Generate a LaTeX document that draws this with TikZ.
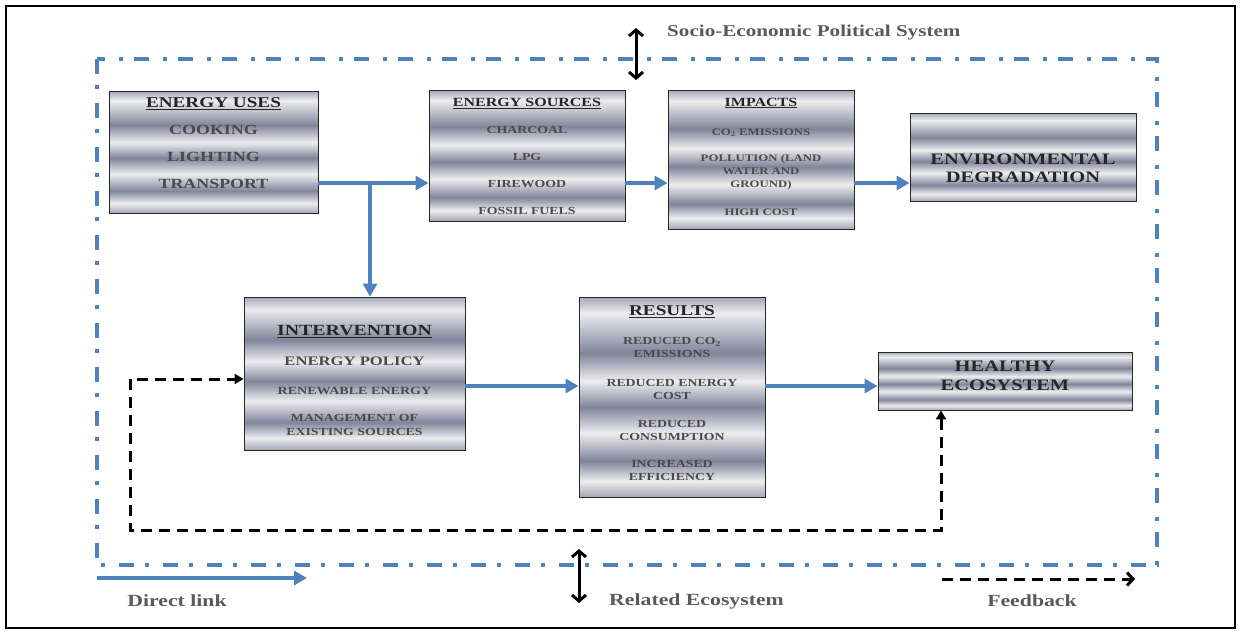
\documentclass[tikz,border=0pt]{standalone}
\usepackage{fontspec}
\setmainfont[FakeStretch=1.28]{Liberation Serif}
\usetikzlibrary{arrows.meta}
\definecolor{lblue}{HTML}{4F81BD}
\definecolor{mL}{HTML}{EDEDF0}
\definecolor{mD}{HTML}{80859A}
\definecolor{mM}{HTML}{A4A8B6}
\definecolor{ttlc}{HTML}{262626}
\definecolor{itmc}{HTML}{4A4A4A}
\definecolor{lgc}{HTML}{5A5A5A}
\pgfdeclareverticalshading{metal}{100bp}{color(0bp)=(mM); color(25bp)=(mM); color(29bp)=(mL); color(34bp)=(mD); color(41bp)=(mL); color(47.5bp)=(mD); color(54bp)=(mL); color(61bp)=(mD); color(71bp)=(mL); color(75bp)=(mM); color(100bp)=(mM)}
\newcommand\ttl[2]{{\color{ttlc}\fontsize{#1}{#1}\selectfont\underline{#2}}}
\tikzset{
  box/.style={draw=black!85, line width=0.9pt, shading=metal, inner sep=0pt},
  btext/.style={align=center, text=itmc, font=\bfseries, inner sep=0pt},
  blink/.style={draw=lblue, line width=3.2pt, -{Triangle[length=13pt,width=14pt]}},
  fdash/.style={draw=black, line width=3pt, dash pattern=on 11pt off 7pt},
  barb2/.style={draw=black, line width=3pt, {Straight Barb[length=6pt,width=14pt]}-{Straight Barb[length=6pt,width=14pt]}},
  lgtext/.style={text=lgc, font=\bfseries\fontsize{17}{17}\selectfont, inner sep=0pt},
}
\begin{document}
\begin{tikzpicture}[x=1pt,y=-1pt]
\useasboundingbox (0,0) rectangle (1241,632);
\fill[white] (0,0) rectangle (1241,632);
\draw[line width=1.4pt] (6,6) rectangle (1235,628);
% dash-dot system boundary
\draw[lblue, line width=3.6pt, dash pattern=on 15pt off 11pt on 4pt off 14pt] (97,59) rectangle (1157,565);

% boxes
\node[box, minimum width=209pt, minimum height=122pt] (uses) at (213.5,152) {};
\node[box, minimum width=196pt, minimum height=131pt] (src) at (527,155.5) {};
\node[box, minimum width=186pt, minimum height=139pt] (imp) at (761,159.5) {};
\node[box, minimum width=226pt, minimum height=88pt] (env) at (1023,157) {};
\node[box, minimum width=221pt, minimum height=153pt] (int) at (354.5,373.5) {};
\node[box, minimum width=186pt, minimum height=200pt] (res) at (672,397) {};
\node[box, minimum width=254pt, minimum height=58pt] (hea) at (1005,381) {};

% texts
\node[btext, font=\bfseries\fontsize{14}{27}\selectfont] (usesT) at (213.5,143)
  {\ttl{15}{ENERGY USES}\\ COOKING\\ LIGHTING\\ TRANSPORT};
\node[btext, font=\bfseries\fontsize{10.8}{27}\selectfont] (srcT) at (527,156.5)
  {\ttl{12.5}{ENERGY SOURCES}\\ CHARCOAL\\ LPG\\ FIREWOOD\\ FOSSIL FUELS};
\node[btext, font=\bfseries\fontsize{10}{13}\selectfont] (impT) at (761,156.5)
  {\ttl{12.5}{IMPACTS}\\[16pt] CO\textsubscript{2} EMISSIONS\\[13pt] POLLUTION (LAND\\ WATER AND\\ GROUND)\\[15pt] HIGH COST};
\node[btext, text=ttlc, font=\bfseries\fontsize{16}{18}\selectfont] (envT) at (1023,168.5)
  {ENVIRONMENTAL\\ DEGRADATION};
\node[btext, font=\bfseries\fontsize{10.8}{14}\selectfont] (intT) at (354.5,380)
  {\ttl{15.5}{INTERVENTION}\\[16pt] {\fontsize{13}{14}\selectfont ENERGY POLICY}\\[15pt] {\fontsize{11}{14}\selectfont RENEWABLE ENERGY}\\[13pt] MANAGEMENT OF\\ EXISTING SOURCES};
\node[btext, font=\bfseries\fontsize{10.8}{13}\selectfont] (resT) at (672,393)
  {\ttl{15}{RESULTS}\\[16pt] REDUCED CO\textsubscript{2}\\ EMISSIONS\\[16pt] REDUCED ENERGY\\ COST\\[15pt] REDUCED\\ CONSUMPTION\\[14pt] INCREASED\\ EFFICIENCY};
\node[btext, text=ttlc, font=\bfseries\fontsize{16}{19}\selectfont] (heaT) at (1005,375.5)
  {HEALTHY\\ ECOSYSTEM};

% direct links
\coordinate (a1) at ([yshift=-31pt]uses.east);
\coordinate (br) at (370,183);
\draw[blink] (a1) -- (a1 -| src.west);
\draw[blink] (br) -- (br |- int.north);
\draw[blink] (a1 -| src.east) -- (a1 -| imp.west);
\draw[blink] (a1 -| imp.east) -- (a1 -| env.west);
\coordinate (a2) at ([yshift=-12.5pt]int.east);
\draw[blink] (a2) -- (a2 -| res.west);
\draw[blink] (a2 -| res.east) -- (a2 -| hea.west);

% feedback loop
\coordinate (f1) at ([xshift=-64pt]hea.south);
\coordinate (fb) at (130,530);
\coordinate (fe) at ([yshift=-5.5pt]int.west);
\draw[fdash, {Triangle[length=9pt,width=10pt]}-{Triangle[length=9pt,width=10pt]}] (f1) -- (f1 |- fb) -- (fb) -- (fb |- fe) -- (fe);

% socio-economic
\coordinate (s1) at (636,28);
\coordinate (s2) at (636,80);
\draw[barb2] (s1) -- (s2);
\node[lgtext, anchor=west, font=\bfseries\fontsize{16.5}{16.5}\selectfont] (socio) at (667,33) {Socio-Economic Political System};

% related ecosystem
\coordinate (r1) at (579,549);
\coordinate (r2) at (579,603);
\draw[barb2] (r1) -- (r2);
\node[lgtext, anchor=west] (relT) at (609,601) {Related Ecosystem};

% legend
\coordinate (l1) at (97,578);
\coordinate (l2) at (307,578);
\draw[blink] (l1) -- (l2);
\node[lgtext] (dlT) at (177,601) {Direct link};
\coordinate (l3) at (942,579);
\coordinate (l4) at (1135,579);
\draw[fdash, -{Straight Barb[length=6pt,width=13pt]}] (l3) -- (l4);
\node[lgtext] (fbT) at (1032,601) {Feedback};
\end{tikzpicture}
\end{document}
